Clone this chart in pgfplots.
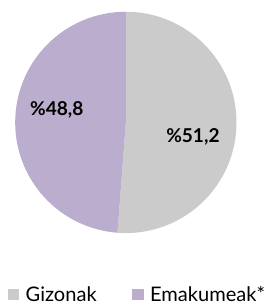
\documentclass[border=0pt]{standalone}
\usepackage{pgfplots}
\pgfplotsset{compat=1.18}
\usepackage{pgfplotstable}
\usepackage{fontspec}
\setmainfont{Lato}
\definecolor{cGiz}{HTML}{CBCBCB}
\definecolor{cEma}{HTML}{BBADCD}
\pgfplotstableread{
label value
Gizonak 51.2
Emakumeak* 48.8
}\piedata
\pgfplotstablegetelem{0}{value}\of\piedata \let\vGiz\pgfplotsretval
\pgfplotstablegetelem{1}{value}\of\piedata \let\vEma\pgfplotsretval
\pgfmathsetmacro\aGizEnd{90-3.6*\vGiz}
\begin{document}
\begin{tikzpicture}
\begin{axis}[
  scale only axis, width=258pt, height=306pt,
  xmin=0, xmax=258, ymin=0, ymax=306,
  hide axis, clip=false,
  legend columns=2,
  legend style={at={(axis cs:8,5)}, anchor=west, draw=none, fill=none,
    font=\fontsize{20.5}{22}\selectfont, inner xsep=0pt,
    /tikz/every even column/.append style={column sep=30pt},
    nodes={inner xsep=6.5pt, inner ysep=1pt}},
  legend image code/.code={\fill[#1] (0pt,-5pt) rectangle (11.5pt,6pt);},
]
\addlegendimage{fill=cGiz, draw=none}
\addlegendentry{Gizonak}
\addlegendimage{fill=cEma, draw=none}
\addlegendentry{Emakumeak*}
\path (axis cs:0,0) rectangle (axis cs:258,306);
\fill[cGiz] (axis cs:128.5,181) -- ++(90:113pt) arc[start angle=90, end angle=\aGizEnd, radius=113pt] -- cycle;
\fill[cEma] (axis cs:128.5,181) -- ++(90:113pt) arc[start angle=90, end angle=\aGizEnd+360, radius=113pt] -- cycle;
\node[font=\fontsize{19.5}{21}\selectfont\bfseries] at (axis cs:197,166) {\%51,2};
\node[font=\fontsize{19.5}{21}\selectfont\bfseries] at (axis cs:58,194) {\%48,8};
\end{axis}
\end{tikzpicture}
\end{document}
